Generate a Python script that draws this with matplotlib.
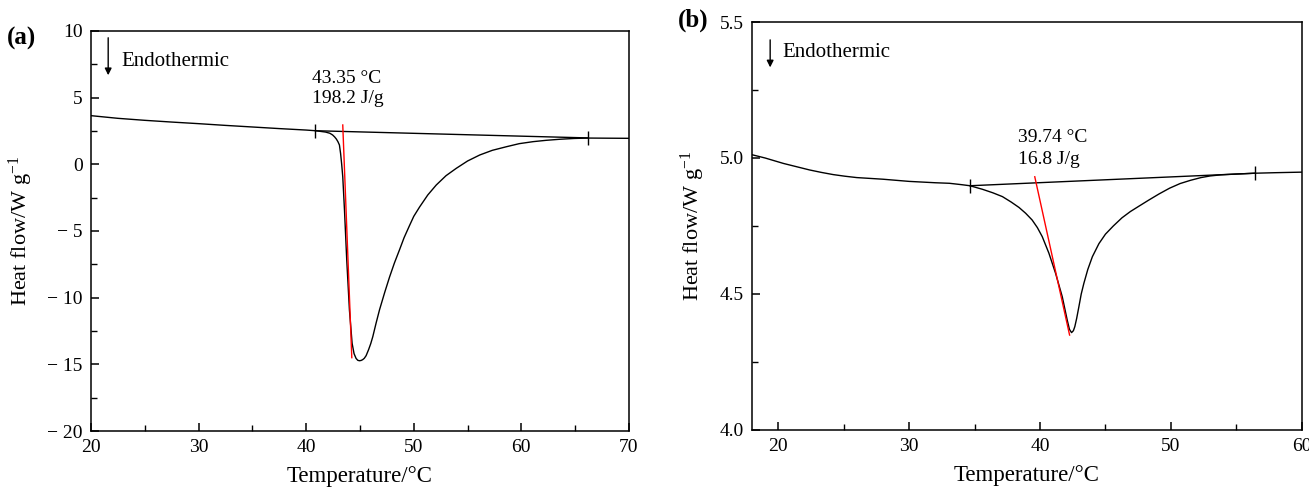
import matplotlib
matplotlib.use("Agg")
import matplotlib.pyplot as plt
from matplotlib.ticker import MultipleLocator, FixedLocator, FixedFormatter

# ---------------- data ----------------
# (a) DSC curve
temp_a = [20, 22.5, 25, 27.5, 30, 32.5, 35, 37.5, 40, 40.86, 41.8, 42.2, 42.46, 42.65,
          42.8, 42.95, 43.09, 43.2, 43.3, 43.4, 43.56, 43.77, 44.02, 44.27, 44.45,
          44.64, 44.8, 44.95, 45.1, 45.25, 45.4, 45.57, 45.8, 46.0, 46.19, 46.5,
          46.82, 47.3, 47.75, 48.2, 48.68, 49.1, 49.6, 50.0, 50.54, 51.3, 52.09,
          53.0, 53.95, 55.0, 56.13, 57.3, 58.61, 59.8, 61.09, 62.3, 63.57, 64.9,
          66.2, 68, 70]
heat_a = [3.65, 3.45, 3.3, 3.17, 3.05, 2.92, 2.8, 2.68, 2.57, 2.52, 2.42, 2.33, 2.2, 2.05,
          1.9, 1.7, 1.45, 0.8, 0.0, -0.93, -3.43, -7.18, -10.93, -13.43, -14.2,
          -14.56, -14.7, -14.73, -14.71, -14.65, -14.55, -14.35, -13.9, -13.45, -12.93, -11.9,
          -10.9, -9.6, -8.45, -7.4, -6.4, -5.5, -4.6, -3.9, -3.2, -2.3, -1.55,
          -0.85, -0.3, 0.25, 0.7, 1.05, 1.32, 1.55, 1.7, 1.8, 1.88, 1.94,
          1.97, 1.96, 1.95]
base_a_x = [40.86, 66.2]
base_a_y = [2.52, 1.98]
tan_a_x = [43.4, 44.24]
tan_a_y = [2.95, -14.5]
yticks_a = [-20, -15, -10, -5, 0, 5, 10]
yticklabels_a = ['\u2212 20', '\u2212 15', '\u2212 10', '\u2212 5', '0', '5', '10']
xticks_a = [20, 30, 40, 50, 60, 70]

# (b) DSC curve
temp_b = [18.0, 19.0, 20.4, 21.4, 22.4, 23.3, 24.2, 25.1, 26.0, 28.0, 30.0, 32.0, 33.08,
          34.0, 34.65, 35.6, 36.4, 37.13, 37.8, 38.4, 38.9, 39.4, 39.8, 40.17, 40.68,
          41.19, 41.7, 42.08, 42.25, 42.41, 42.55, 42.66, 42.8, 42.97, 43.15, 43.35,
          43.65, 44.0, 44.5, 45.0, 45.6, 46.26, 46.9, 47.53, 48.3, 49.1, 49.9, 50.7,
          51.5, 52.3, 53.0, 53.8, 55.0, 56.4, 58.0, 60.0]
heat_b = [5.012, 5.0, 4.98, 4.968, 4.956, 4.947, 4.939, 4.933, 4.928, 4.922, 4.914, 4.909, 4.907,
          4.902, 4.898, 4.885, 4.872, 4.858, 4.838, 4.818, 4.797, 4.772, 4.744, 4.711, 4.65,
          4.576, 4.49, 4.404, 4.37, 4.358, 4.365, 4.38, 4.41, 4.453, 4.5, 4.539,
          4.59, 4.637, 4.685, 4.72, 4.75, 4.78, 4.803, 4.822, 4.845, 4.868, 4.889, 4.906,
          4.918, 4.928, 4.934, 4.938, 4.941, 4.944, 4.946, 4.948]
base_b_x = [34.65, 56.4]
base_b_y = [4.898, 4.944]
tan_b_x = [39.6, 42.26]
tan_b_y = [4.931, 4.349]
yticks_b = [4.0, 4.5, 5.0, 5.5]
yticklabels_b = ['4.0', '4.5', '5.0', '5.5']
xticks_b = [20, 30, 40, 50, 60]

# ---------------- style ----------------
plt.rcParams['font.family'] = ['Liberation Serif', 'DejaVu Serif']
plt.rcParams['mathtext.fontset'] = 'custom'
plt.rcParams['mathtext.rm'] = 'Liberation Serif'
plt.rcParams['mathtext.it'] = 'Liberation Serif:italic'
plt.rcParams['axes.linewidth'] = 1.1

fig = plt.figure(figsize=(13.09, 4.88), dpi=100)
ax_a = fig.add_axes([0.0695, 0.1168, 0.4110, 0.8197])
ax_b = fig.add_axes([0.5745, 0.1189, 0.4200, 0.8360])


def style_axis(ax):
    ax.tick_params(which='both', direction='in', top=False, right=False,
                   labelsize=14, pad=6)
    ax.tick_params(which='major', length=6, width=1.1)
    ax.tick_params(which='minor', length=4, width=1.0)
    ax.set_xlabel('Temperature/\u00b0C', fontsize=16.5, labelpad=7)
    ax.set_ylabel('Heat flow/W g$^{\\mathregular{\u2212}1}$', fontsize=16, labelpad=9)


# ---- panel (a)
ax_a.plot(temp_a, heat_a, color='black', lw=1.0)
ax_a.plot(base_a_x, base_a_y, color='black', lw=1.0, marker='|', ms=10, mew=1.0)
ax_a.plot(tan_a_x, tan_a_y, color='red', lw=1.0)
ax_a.set_xlim(20, 70)
ax_a.set_ylim(-20, 10)
ax_a.xaxis.set_major_locator(FixedLocator(xticks_a))
ax_a.xaxis.set_minor_locator(MultipleLocator(5))
ax_a.yaxis.set_major_locator(FixedLocator(yticks_a))
ax_a.yaxis.set_major_formatter(FixedFormatter(yticklabels_a))
ax_a.yaxis.set_minor_locator(MultipleLocator(2.5))
style_axis(ax_a)
ax_a.annotate('', xy=(0.032, 0.8825), xytext=(0.032, 0.99), xycoords='axes fraction',
              arrowprops=dict(arrowstyle='-|>', color='black', lw=1.0, mutation_scale=10))
ax_a.text(0.056, 0.9225, 'Endothermic', transform=ax_a.transAxes, fontsize=15, va='center')
ax_a.text(40.58, 6.47, '43.35 \u00b0C', fontsize=14, va='center')
ax_a.text(40.58, 4.97, '198.2 J/g', fontsize=14, va='center')
fig.text(0.005, 0.922, '(a)', fontsize=18, fontweight='bold', va='center')

# ---- panel (b)
ax_b.plot(temp_b, heat_b, color='black', lw=1.0)
ax_b.plot(base_b_x, base_b_y, color='black', lw=1.0, marker='|', ms=10, mew=1.0)
ax_b.plot(tan_b_x, tan_b_y, color='red', lw=1.0)
ax_b.set_xlim(18, 60)
ax_b.set_ylim(4.0, 5.5)
ax_b.xaxis.set_major_locator(FixedLocator(xticks_b))
ax_b.xaxis.set_minor_locator(MultipleLocator(5))
ax_b.yaxis.set_major_locator(FixedLocator(yticks_b))
ax_b.yaxis.set_major_formatter(FixedFormatter(yticklabels_b))
ax_b.yaxis.set_minor_locator(MultipleLocator(0.25))
style_axis(ax_b)
ax_b.annotate('', xy=(0.033, 0.882), xytext=(0.033, 0.963), xycoords='axes fraction',
              arrowprops=dict(arrowstyle='-|>', color='black', lw=1.0, mutation_scale=10))
ax_b.text(0.055, 0.926, 'Endothermic', transform=ax_b.transAxes, fontsize=15, va='center')
ax_b.text(38.3, 5.077, '39.74 \u00b0C', fontsize=14, va='center')
ax_b.text(38.3, 4.993, '16.8 J/g', fontsize=14, va='center')
fig.text(0.518, 0.959, '(b)', fontsize=18, fontweight='bold', va='center')

fig.savefig('out.png', dpi=100)
